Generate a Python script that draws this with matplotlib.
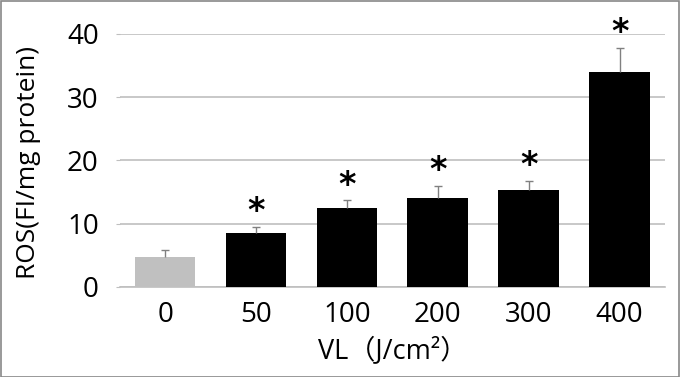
import matplotlib
matplotlib.use("Agg")
import matplotlib.pyplot as plt
from matplotlib.patches import Rectangle

plt.rcParams['font.family'] = ['Open Sans', 'Noto Sans CJK JP', 'DejaVu Sans']

categories = ["0", "50", "100", "200", "300", "400"]
values = [4.8, 8.6, 12.5, 14.0, 15.4, 34.0]
errors = [1.0, 0.95, 1.2, 2.0, 1.4, 3.8]
significant = [False, True, True, True, True, True]
colors = ["#c0c0c0", "#000000", "#000000", "#000000", "#000000", "#000000"]

fig = plt.figure(figsize=(6.8, 3.77), dpi=100)
ax = fig.add_axes([0.176, 0.239, 0.802, 0.671])

x = list(range(len(categories)))
ax.bar(x, values, width=0.667, color=colors, zorder=3)
tops = [v + e for v, e in zip(values, errors)]
ax.vlines(x, values, tops, color='#808080', linewidth=1.0, zorder=4)
cap = 0.045
ax.hlines(tops, [xi - cap for xi in x], [xi + cap for xi in x],
          color='#808080', linewidth=1.0, zorder=4)
for xi, t, s in zip(x, tops, significant):
    if s:
        ax.annotate("*", (xi, t), xytext=(0, -1), textcoords='offset points',
                    ha='center', va='bottom', fontsize=24, fontweight='bold',
                    annotation_clip=False, family=['DejaVu Sans'])

ax.set_xlim(-0.5, len(categories) - 0.5)
ax.set_ylim(0, 40)
ax.set_yticks([0, 10, 20, 30, 40])
ax.yaxis.grid(True, color='#bfbfbf', linewidth=1.2, zorder=0)
ax.set_axisbelow(True)
for sp in ['top', 'right', 'left']:
    ax.spines[sp].set_visible(False)
ax.spines['bottom'].set_color('#bfbfbf')
ax.spines['bottom'].set_linewidth(1.2)
ax.set_xticks(x)
ax.set_xticklabels(categories)
ax.tick_params(axis='x', length=0, labelsize=20, pad=10)
ax.tick_params(axis='y', length=3, color='#bfbfbf', labelsize=20, pad=12)
ax.set_xlabel("VL（J/cm²）", fontsize=19.5, labelpad=7)
ax.set_ylabel("ROS(FI/mg protein)", fontsize=19)
ax.yaxis.set_label_coords(-0.145, 0.49)

fig.patches.append(Rectangle((0.001, 0.001), 0.997, 0.996, transform=fig.transFigure,
                             fill=False, edgecolor='#888888', linewidth=1.2))

fig.savefig("out.png", dpi=100)
